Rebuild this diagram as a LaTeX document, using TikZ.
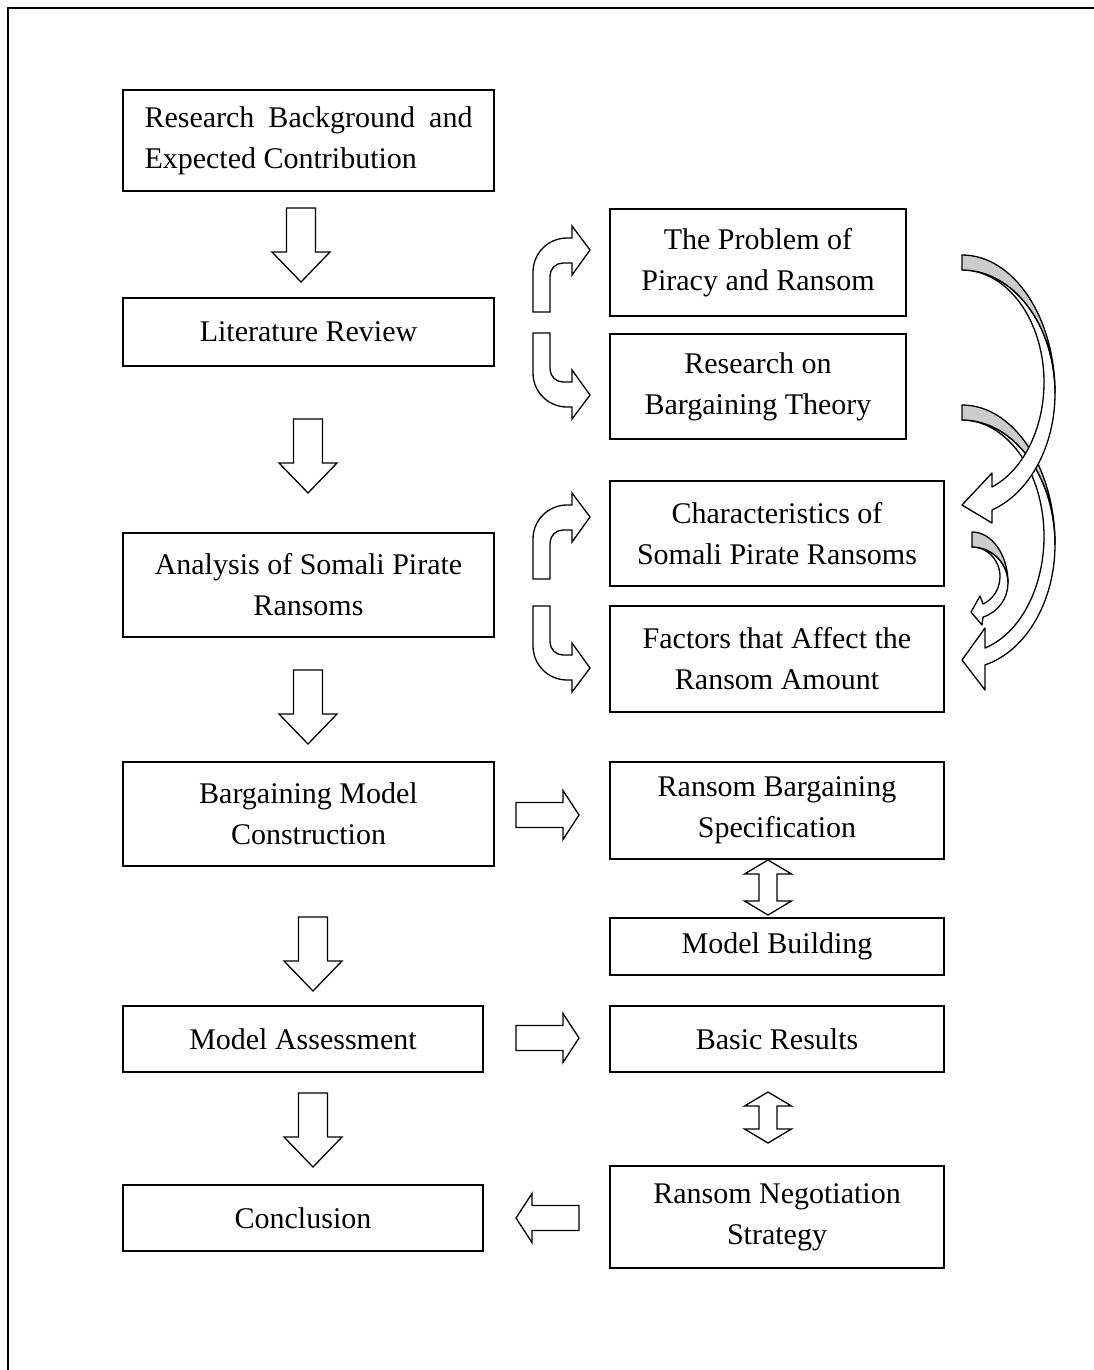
\documentclass[tikz,border=0pt]{standalone}
\usepackage{fontspec}
\setmainfont{Liberation Serif}
\begin{document}
\begin{tikzpicture}[x=1pt,y=1pt,
  box/.style={draw, line width=1.6pt, inner sep=0pt, align=center, font=\fontsize{30}{41}\selectfont},
  blk/.style={draw, line width=1.3pt, fill=white, line join=miter},
  garr/.style={draw, line width=1.3pt, line join=round},
  pics/downarr/.style={code={\draw[blk] (-14.5,0) -- (-14.5,-44) -- (-29,-44) -- (0,-74) -- (29,-44) -- (14.5,-44) -- (14.5,0) -- cycle;}},
  pics/rightarr/.style={code={\draw[blk] (0,12.5) -- (47,12.5) -- (47,24.5) -- (63,0) -- (47,-24.5) -- (47,-12.5) -- (0,-12.5) -- cycle;}},
  pics/dblarr/.style={code={\draw[blk] (0,0) -- (23.5,-14) -- (9,-14) -- (9,-#1+14) -- (23.5,-#1+14) -- (0,-#1) -- (-23.5,-#1+14) -- (-9,-#1+14) -- (-9,-14) -- (-23.5,-14) -- cycle;}},
  pics/bent/.style={code={\draw[blk] (0,0) -- (0,40) arc[start angle=180,end angle=90,radius=34] -- (39,74) -- (39,86) -- (57,62) -- (39,37) -- (39,49) -- (30,49) arc[start angle=90,end angle=180,radius=13] -- (17,0) -- cycle;}}
]
\useasboundingbox (0,0) rectangle (1094,-1370);
\draw[line width=2pt] (8,-1370) -- (8,-8) -- (1094,-8);

% left column
\node[box, align=left, minimum width=371pt, minimum height=101pt] (bg) at (308.5,-140.5) {\makebox[328pt][s]{Research Background and}\\Expected Contribution};
\node[box, minimum width=371pt, minimum height=68pt] (lit) at (308.5,-332) {Literature Review};
\node[box, minimum width=371pt, minimum height=104pt] (ana) at (308.5,-585) {Analysis of Somali Pirate\\Ransoms};
\node[box, minimum width=371pt, minimum height=104pt] (bmc) at (308.5,-814) {Bargaining Model\\Construction};
\node[box, minimum width=360pt, minimum height=66pt] (ma) at (303,-1039) {Model Assessment};
\node[box, minimum width=360pt, minimum height=66pt] (con) at (303,-1218) {Conclusion};

% right column
\node[box, minimum width=296pt, minimum height=107pt] (prob) at (758,-262.5) {The Problem of\\Piracy and Ransom};
\node[box, minimum width=296pt, minimum height=105pt] (rbt) at (758,-386.5) {Research on\\Bargaining Theory};
\node[box, minimum width=334pt, minimum height=105pt] (char) at (777,-533.5) {Characteristics of\\Somali Pirate Ransoms};
\node[box, minimum width=334pt, minimum height=106pt] (fact) at (777,-659) {Factors that Affect the\\Ransom Amount};
\node[box, minimum width=334pt, minimum height=97pt] (rbs) at (777,-810.5) {Ransom Bargaining\\Specification};
\node[box, minimum width=334pt, minimum height=57pt] (mb) at (777,-946.5) {Model Building};
\node[box, minimum width=334pt, minimum height=66pt] (br) at (777,-1039) {Basic Results};
\node[box, minimum width=334pt, minimum height=102pt] (rns) at (777,-1217) {Ransom Negotiation\\Strategy};

% down block arrows
\pic at (301,-208) {downarr};
\pic at (308,-419) {downarr};
\pic at (308,-670) {downarr};
\pic at (313,-917) {downarr};
\pic at (313,-1093) {downarr};

% horizontal block arrows
\pic at (516,-815) {rightarr};
\pic at (516,-1038) {rightarr};
\pic[xscale=-1] at (579,-1218) {rightarr};

% double arrows
\pic at (768,-860) {dblarr=55};
\pic at (768,-1092) {dblarr=51};

% bent arrows
\pic at (533,-312) {bent};
\pic[yscale=-1] at (533,-333) {bent};
\pic at (533,-579) {bent};
\pic[yscale=-1] at (533,-606) {bent};

% curved gray arrows (arrow 2 first)
\draw[garr, fill=white] (962,-420) arc[start angle=90, end angle=-75.68, x radius=93, y radius=124.4] -- (985,-690) -- (962,-660) -- (985,-628) -- (985,-648) arc[start angle=-73.71, end angle=90, x radius=82, y radius=116.3] -- cycle;
\draw[garr, fill=gray!40] (962,-405) arc[start angle=90, end angle=0, x radius=93, y radius=139.4] arc[start angle=0, end angle=90, x radius=93, y radius=124.4] -- cycle;

\draw[garr, fill=white] (962,-270) arc[start angle=90, end angle=-71.18, x radius=93, y radius=123.3] -- (992,-523) -- (962,-505) -- (992,-473) -- (992,-487) arc[start angle=-68.54, end angle=90, x radius=82, y radius=112.4] -- cycle;
\draw[garr, fill=gray!40] (962,-255) arc[start angle=90, end angle=0, x radius=93, y radius=138.3] arc[start angle=0, end angle=90, x radius=93, y radius=123.3] -- cycle;

\draw[garr, fill=white] (972,-547) arc[start angle=90, end angle=-72.21, x radius=36, y radius=35.9] -- (982,-625) -- (971,-612) -- (980,-596) -- (983,-604) arc[start angle=-66.87, end angle=90, x radius=28, y radius=29.7] -- cycle;
\draw[garr, fill=gray!40] (972,-532) arc[start angle=90, end angle=0, x radius=36, y radius=50.9] arc[start angle=0, end angle=90, x radius=36, y radius=35.9] -- cycle;
\end{tikzpicture}
\end{document}
